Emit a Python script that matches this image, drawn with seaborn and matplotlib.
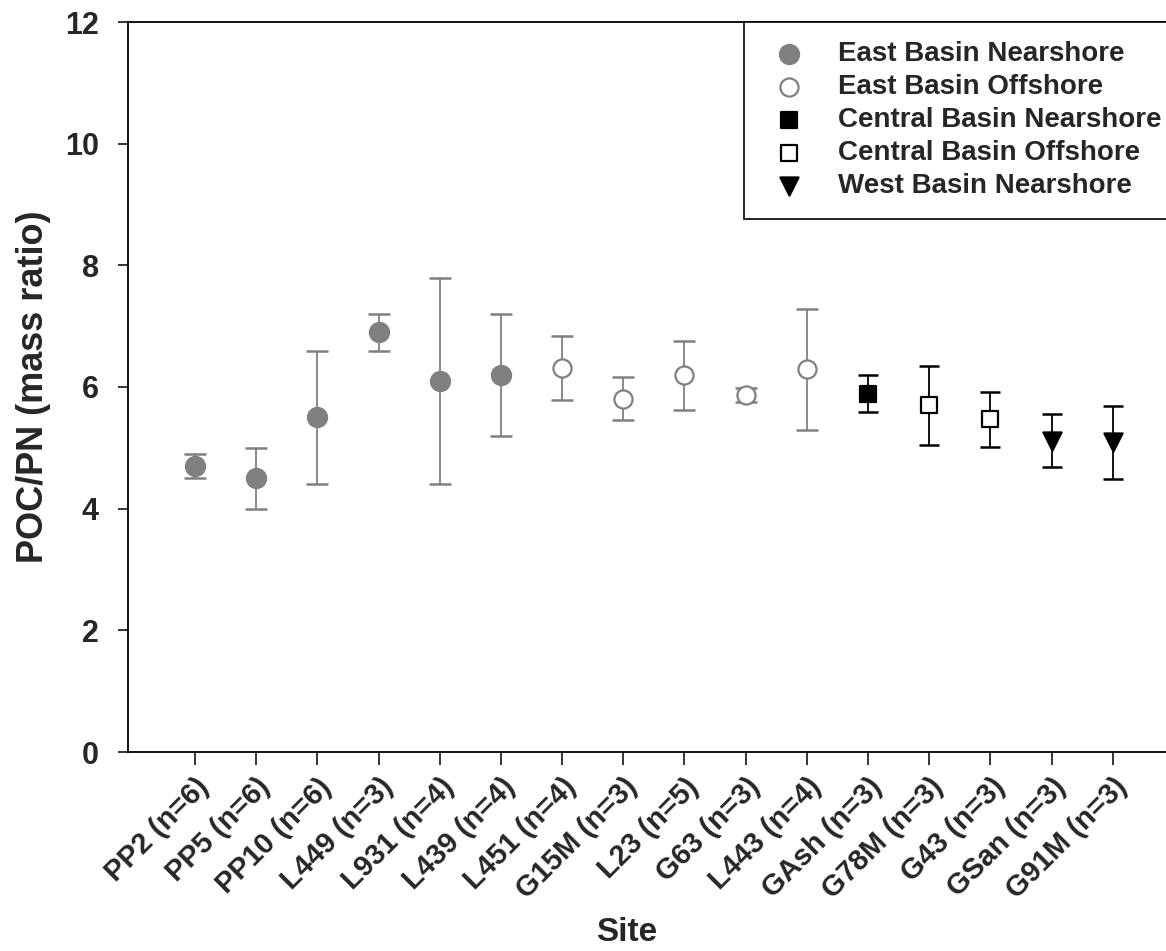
import matplotlib
matplotlib.use("Agg")
import matplotlib.pyplot as plt
import seaborn as sns
import pandas as pd
import numpy as np

sites = ["PP2 (n=6)", "PP5 (n=6)", "PP10 (n=6)", "L449 (n=3)", "L931 (n=4)",
         "L439 (n=4)", "L451 (n=4)", "G15M (n=3)", "L23 (n=5)", "G63 (n=3)",
         "L443 (n=4)", "GAsh (n=3)", "G78M (n=3)", "G43 (n=3)", "GSan (n=3)",
         "G91M (n=3)"]
ratio = [4.7, 4.5, 5.5, 6.9, 6.1, 6.2, 6.31, 5.81, 6.19, 5.87, 6.29, 5.89,
         5.70, 5.47, 5.12, 5.09]
sd = [0.2, 0.5, 1.1, 0.3, 1.7, 1.0, 0.53, 0.35, 0.57, 0.12, 1.0, 0.3,
      0.65, 0.45, 0.44, 0.6]
groups = ["East Basin Nearshore"] * 6 + ["East Basin Offshore"] * 5 + \
         ["Central Basin Nearshore"] + ["Central Basin Offshore"] * 2 + \
         ["West Basin Nearshore"] * 2
group_order = ["East Basin Nearshore", "East Basin Offshore",
               "Central Basin Nearshore", "Central Basin Offshore",
               "West Basin Nearshore"]

df = pd.DataFrame({"site": sites, "ratio": ratio, "sd": sd, "group": groups})
df["pos"] = np.arange(len(df))

GREY = "#808080"
styles = {
    "East Basin Nearshore": dict(marker="o", face=GREY, edge=GREY, line=GREY, s=190, cap=8.0),
    "East Basin Offshore": dict(marker="o", face="white", edge=GREY, line=GREY, s=170, cap=8.0),
    "Central Basin Nearshore": dict(marker="s", face="black", edge="black", line="black", s=130, cap=7.5),
    "Central Basin Offshore": dict(marker="s", face="white", edge="black", line="black", s=120, cap=7.5),
    "West Basin Nearshore": dict(marker="v", face="black", edge="black", line="black", s=170, cap=7.5),
}

sns.set_style("white")
plt.rcParams["font.family"] = ["Liberation Sans", "DejaVu Sans"]
plt.rcParams["font.weight"] = "bold"

fig = plt.figure(figsize=(11.66, 9.51), dpi=100)
ax = fig.add_axes([128 / 1166, 1 - 752 / 951, 1 - 128 / 1166, (752 - 22) / 951])

for g in group_order:
    sub = df[df["group"] == g]
    st = styles[g]
    ax.errorbar(sub["pos"], sub["ratio"], yerr=sub["sd"], fmt="none",
                ecolor=st["line"], elinewidth=1.3, capsize=st["cap"],
                capthick=1.8, zorder=2)
    sns.scatterplot(data=sub, x="pos", y="ratio", ax=ax, marker=st["marker"],
                    color=st["face"], edgecolor=st["edge"], linewidth=1.6,
                    s=st["s"], label=g, zorder=3)

ax.set_xlim(-1.095, 15.87)
ax.set_ylim(0, 12)
ax.set_yticks(np.arange(0, 13, 2))
ax.set_xticks(df["pos"])
ax.set_xticklabels(df["site"], rotation=45, ha="right", rotation_mode="anchor",
                   fontsize=21, fontweight="bold")
ax.set_yticklabels([str(v) for v in range(0, 13, 2)], fontsize=22, fontweight="bold")
ax.tick_params(axis="y", direction="out", length=7, width=1.3, pad=14, left=True)
ax.tick_params(axis="x", direction="out", length=9, width=1.3, pad=6, bottom=True)

for side in ["left", "bottom", "top"]:
    ax.spines[side].set_visible(True)
    ax.spines[side].set_color("black")
    ax.spines[side].set_linewidth(1.3)
ax.spines["right"].set_visible(False)

ax.set_xlabel("Site", fontsize=24, fontweight="bold", labelpad=9)
ax.xaxis.label.set_x((627 - 128) / 1038)
ax.set_ylabel("POC/PN (mass ratio)", fontsize=26, fontweight="bold", labelpad=10)

leg = ax.legend(loc="upper left", bbox_to_anchor=(744 / 1166, 1 - 22 / 951),
                bbox_transform=fig.transFigure, borderaxespad=0,
                frameon=True, fancybox=False, framealpha=1, edgecolor="black",
                prop={"size": 20, "weight": "bold"}, labelspacing=0.25,
                borderpad=0.7, handlelength=1.87, handletextpad=0.8,
                scatterpoints=1)
leg.get_frame().set_linewidth(1.2)

fig.savefig("out.png", dpi=100)
